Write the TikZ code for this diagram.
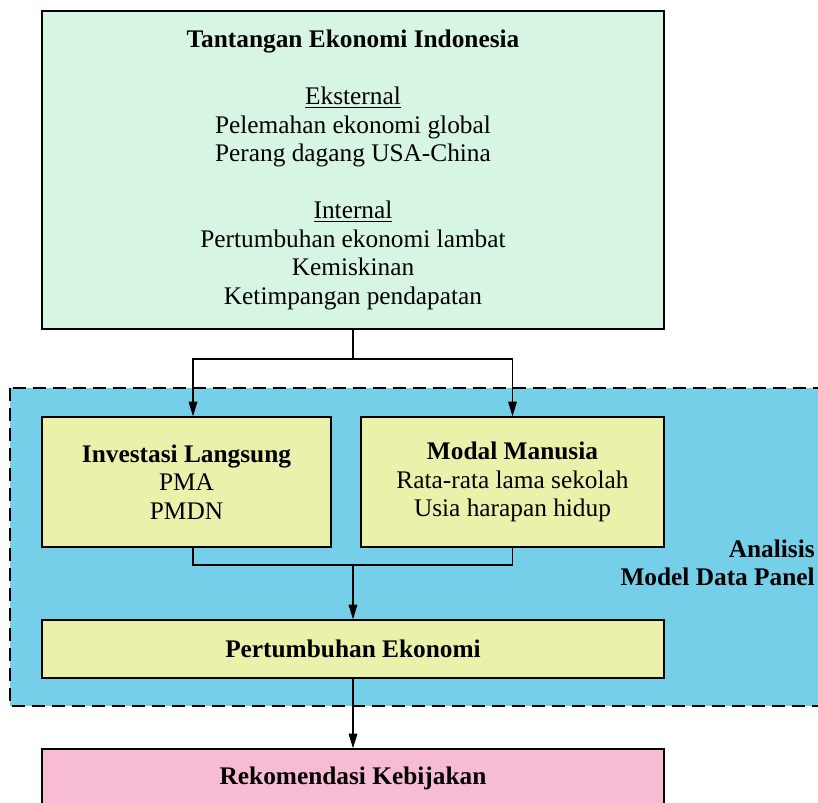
\documentclass[tikz,border=0pt]{standalone}
\usepackage{fontspec}
\setmainfont{Liberation Serif}
\usetikzlibrary{arrows.meta}
\definecolor{hijau}{HTML}{D6F6E3}
\definecolor{biru}{HTML}{75CFE8}
\definecolor{kuning}{HTML}{EAF1AA}
\definecolor{merahmuda}{HTML}{F8BBD4}
\def\px{0.75pt}
\tikzset{
  kotak/.style 2 args={draw=black,line width=1pt,align=center,inner sep=0pt,
    minimum width=#1*\px,minimum height=#2*\px},
  garis/.style={line width=0.8pt},
}
\begin{document}
\begin{tikzpicture}[x=0.75pt,y=-0.75pt,>={Triangle[length=11pt,width=6.5pt]},
    font=\fontsize{19}{21.4}\selectfont]
  \useasboundingbox (0,0) rectangle (818,803);
  % area analisis
  \draw[fill=biru,line width=1pt,dash pattern=on 10pt off 5pt] (10,388) rectangle (830,706);
  \node[anchor=east,align=right,inner sep=0pt,font=\fontsize{19}{21.4}\selectfont\bfseries] (analisis) at (815,563) {Analisis\\Model Data Panel};
  % kotak-kotak
  \node[kotak={622}{318},fill=hijau] (tantangan) at (353,170) {\textbf{Tantangan Ekonomi Indonesia}\\[21.4pt]
    \underline{Eksternal}\\Pelemahan ekonomi global\\Perang dagang USA-China\\[21.4pt]
    \underline{Internal}\\Pertumbuhan ekonomi lambat\\Kemiskinan\\Ketimpangan pendapatan};
  \node[kotak={289}{130},fill=kuning] (investasi) at (186.5,482) {\textbf{Investasi Langsung}\\PMA\\PMDN};
  \node[kotak={303}{130},fill=kuning] (modal) at (512.5,482) {\textbf{Modal Manusia}\\Rata-rata lama sekolah\\Usia harapan hidup};
  \node[kotak={622}{58},fill=kuning] (pertumbuhan) at (353,649) {\textbf{Pertumbuhan Ekonomi}};
  \node[kotak={622}{58},fill=merahmuda] (rekomendasi) at (353,778) {\textbf{Rekomendasi Kebijakan}};
  % penghubung
  \coordinate (cabang) at (353,359);
  \coordinate (gabung) at (353,565);
  \draw[garis] (tantangan.south) -- (cabang);
  \draw[garis,->] (cabang) -| ([xshift=6.5*\px]investasi.north);
  \draw[garis,->] (cabang) -| (modal.north);
  \draw[garis] ([xshift=6.5*\px]investasi.south) |- (gabung);
  \draw[garis] (modal.south) |- (gabung);
  \draw[garis,->] (gabung) -- (pertumbuhan.north);
  \draw[garis,->] (pertumbuhan.south) -- (rekomendasi.north);
\end{tikzpicture}
\end{document}
